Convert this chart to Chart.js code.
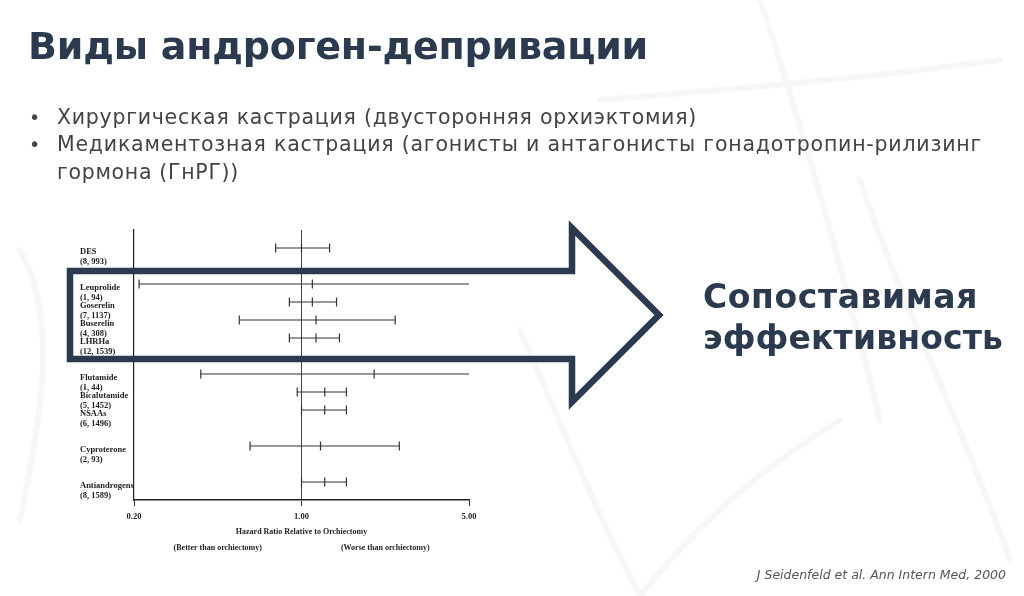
<!DOCTYPE html>
<html><head><meta charset="utf-8">
<script src="https://cdn.jsdelivr.net/npm/chart.js@4.4.1/dist/chart.umd.min.js"></script>
<style>
html,body{margin:0;padding:0;background:#fff;}
#wrap{position:relative;width:1024px;height:596px;overflow:hidden;background:#fff;}
#bg,#arrow,#c{position:absolute;left:0;top:0;}
.t{position:absolute;white-space:nowrap;}
#title{left:28px;top:24px;font:700 38px "DejaVu Sans";line-height:44px;color:#2b3a4e;}
.b{font:400 20.5px "DejaVu Sans";line-height:26px;color:#444;}
.dot{position:absolute;font:400 19px "DejaVu Sans";line-height:26px;color:#444;}
.big{font:700 33px "DejaVu Sans";line-height:40px;color:#2b3a4e;}
#cite{right:18px;top:566px;font:italic 400 12.5px "DejaVu Sans";line-height:18px;color:#555;}
</style></head>
<body>
<div id="wrap">
<svg id="bg" width="1024" height="596">
  <g fill="none" stroke="#f7f7f7" stroke-width="6" stroke-linecap="round">
    <path d="M20 250 C 60 320, 40 420, 20 520"/>
    <path d="M520 330 C 560 420, 590 500, 640 596"/>
    <path d="M600 100 C 720 90, 850 80, 1000 60"/>
    <path d="M640 596 C 700 520, 760 470, 840 420"/>
    <path d="M860 180 C 900 300, 960 420, 1010 560"/>
    <path d="M760 0 C 800 120, 840 260, 880 420"/>
  </g>
</svg>
<canvas id="c" width="1024" height="596"></canvas>
<svg id="arrow" width="1024" height="596">
  <polygon points="70,271 572,271 572,228 659,315 572,402 572,359 70,359" fill="none" stroke="#2b3a4e" stroke-width="6.5" stroke-linejoin="miter"/>
</svg>
<div id="title" class="t" data-w="620">Виды андроген-депривации</div>
<div class="dot" style="left:29px;top:104px">•</div>
<div class="dot" style="left:29px;top:131px">•</div>
<div class="t b" style="left:57px;top:104px" data-w="640">Хирургическая кастрация (двусторонняя орхиэктомия)</div>
<div class="t b" style="left:57px;top:131px" data-w="925">Медикаментозная кастрация (агонисты и антагонисты гонадотропин-рилизинг</div>
<div class="t b" style="left:57px;top:159px" data-w="182">гормона (ГнРГ))</div>
<div class="t big" style="left:703px;top:277px" data-w="275">Сопоставимая</div>
<div class="t big" style="left:703px;top:318px" data-w="300">эффективность</div>
<div id="cite" class="t">J Seidenfeld et al. Ann Intern Med, 2000</div>
</div>
<script>
// ---- data ----
const categories = ['DES', '', 'Leuprolide', 'Goserelin', 'Buserelin', 'LHRHa', '', 'Flutamide', 'Bicalutamide', 'NSAAs', '', 'Cyproterone', '', 'Antiandrogens'];
const studies    = ['(8, 993)', '', '(1, 94)', '(7, 1137)', '(4, 308)', '(12, 1539)', '', '(1, 44)', '(5, 1452)', '(6, 1496)', '', '(2, 93)', '', '(8, 1589)'];
const hazardRatio = [1.00, null, 1.11, 1.11, 1.15, 1.15, null, 2.01, 1.25, 1.25, null, 1.20, null, 1.25];
const ciLower     = [0.78, null, 0.21, 0.89, 0.55, 0.89, null, 0.38, 0.96, 1.00, null, 0.61, null, 1.00];
const ciUpper     = [1.31, null, 5.00, 1.40, 2.46, 1.44, null, 5.00, 1.54, 1.54, null, 2.56, null, 1.54];
const xTicks = [0.2, 1, 5];
const axisTitle = 'Hazard Ratio Relative to Orchiectomy';
const noteBetter = '(Better than orchiectomy)';
const noteWorse = '(Worse than orchiectomy)';

// fit text widths
function fit(){
  document.querySelectorAll('[data-w]').forEach(el=>{
    el.style.letterSpacing='0px';
    const w = el.getBoundingClientRect().width;
    const n = el.textContent.length;
    el.style.letterSpacing = ((+el.dataset.w - w)/n)+'px';
  });
}
fit();

const X_MIN = 0.2, X_MAX = 5;
const ink = '#333';

const datasets = [];
categories.forEach((c,i)=>{
  if (hazardRatio[i] == null) return;
  datasets.push({
    type:'scatter', showLine:true,
    data:[{x:ciLower[i], y:i},{x:ciUpper[i], y:i}],
    borderColor:ink, borderWidth:1,
    pointStyle:'line', rotation:90,
    pointRadius: ctx => (ctx.raw && (ctx.raw.x >= X_MAX || ctx.raw.x <= X_MIN) ? 0 : 4.5),
    pointBorderColor:ink, pointBorderWidth:1.2,
  });
});
datasets.push({
  type:'scatter',
  data: categories.map((c,i)=>hazardRatio[i]==null?null:{x:hazardRatio[i], y:i}).filter(Boolean),
  pointStyle:'line', rotation:90, pointRadius:4.5,
  borderColor:ink, pointBorderColor:ink, pointBorderWidth:1.2,
});

const textPlugin = {
  id:'forestText',
  afterDraw(chart){
    const {ctx, scales:{x,y}, chartArea} = chart;
    ctx.save();
    ctx.fillStyle = '#1e1e1e';
    ctx.font = 'bold 8.5px "Liberation Serif"';
    ctx.textAlign = 'left'; ctx.textBaseline = 'middle';
    categories.forEach((c,i)=>{
      if (!c) return;
      const py = y.getPixelForValue(i);
      ctx.fillText(c, 80, py + 4);
      ctx.fillText(studies[i], 80, py + 13.5);
    });
    ctx.textAlign = 'center';
    ctx.font = 'bold 8px "Liberation Serif"';
    ctx.fillText(axisTitle, x.getPixelForValue(1), chartArea.bottom + 32);
    ctx.fillText(noteBetter, (chartArea.left + x.getPixelForValue(1))/2, chartArea.bottom + 48);
    ctx.fillText(noteWorse, (chartArea.right + x.getPixelForValue(1))/2, chartArea.bottom + 48);
    ctx.restore();
  }
};

new Chart(document.getElementById('c'), {
  type:'scatter',
  data:{datasets},
  options:{
    responsive:false, animation:false,
    layout:{padding:{left:134, right:1024-469, top:230, bottom:596-500-50}},
    plugins:{legend:{display:false}, tooltip:{enabled:false}},
    scales:{
      x:{
        type:'logarithmic', min:X_MIN, max:X_MAX,
        afterBuildTicks: s => { s.ticks = xTicks.map(v=>({value:v})); },
        afterFit: s => { s.height = 50; },
        ticks:{callback:v=>Number(v).toFixed(2), color:'#1e1e1e', font:{family:'Liberation Serif', weight:'bold', size:8.5}, padding:6, maxRotation:0, autoSkip:false},
        grid:{drawOnChartArea:true, color: ctx => (ctx.tick && ctx.tick.value===1 ? '#444' : 'rgba(0,0,0,0)'), lineWidth:1, tickColor:'#333', tickLength:6},
        border:{display:true, color:'#222', width:1.5}
      },
      y:{
        type:'linear', min:-1, max:14, reverse:true,
        afterFit: s => { s.width = 0; },
        ticks:{display:false},
        grid:{display:false},
        border:{display:true, color:'#222', width:1.2}
      }
    }
  },
  plugins:[textPlugin]
});
</script>
</body></html>
